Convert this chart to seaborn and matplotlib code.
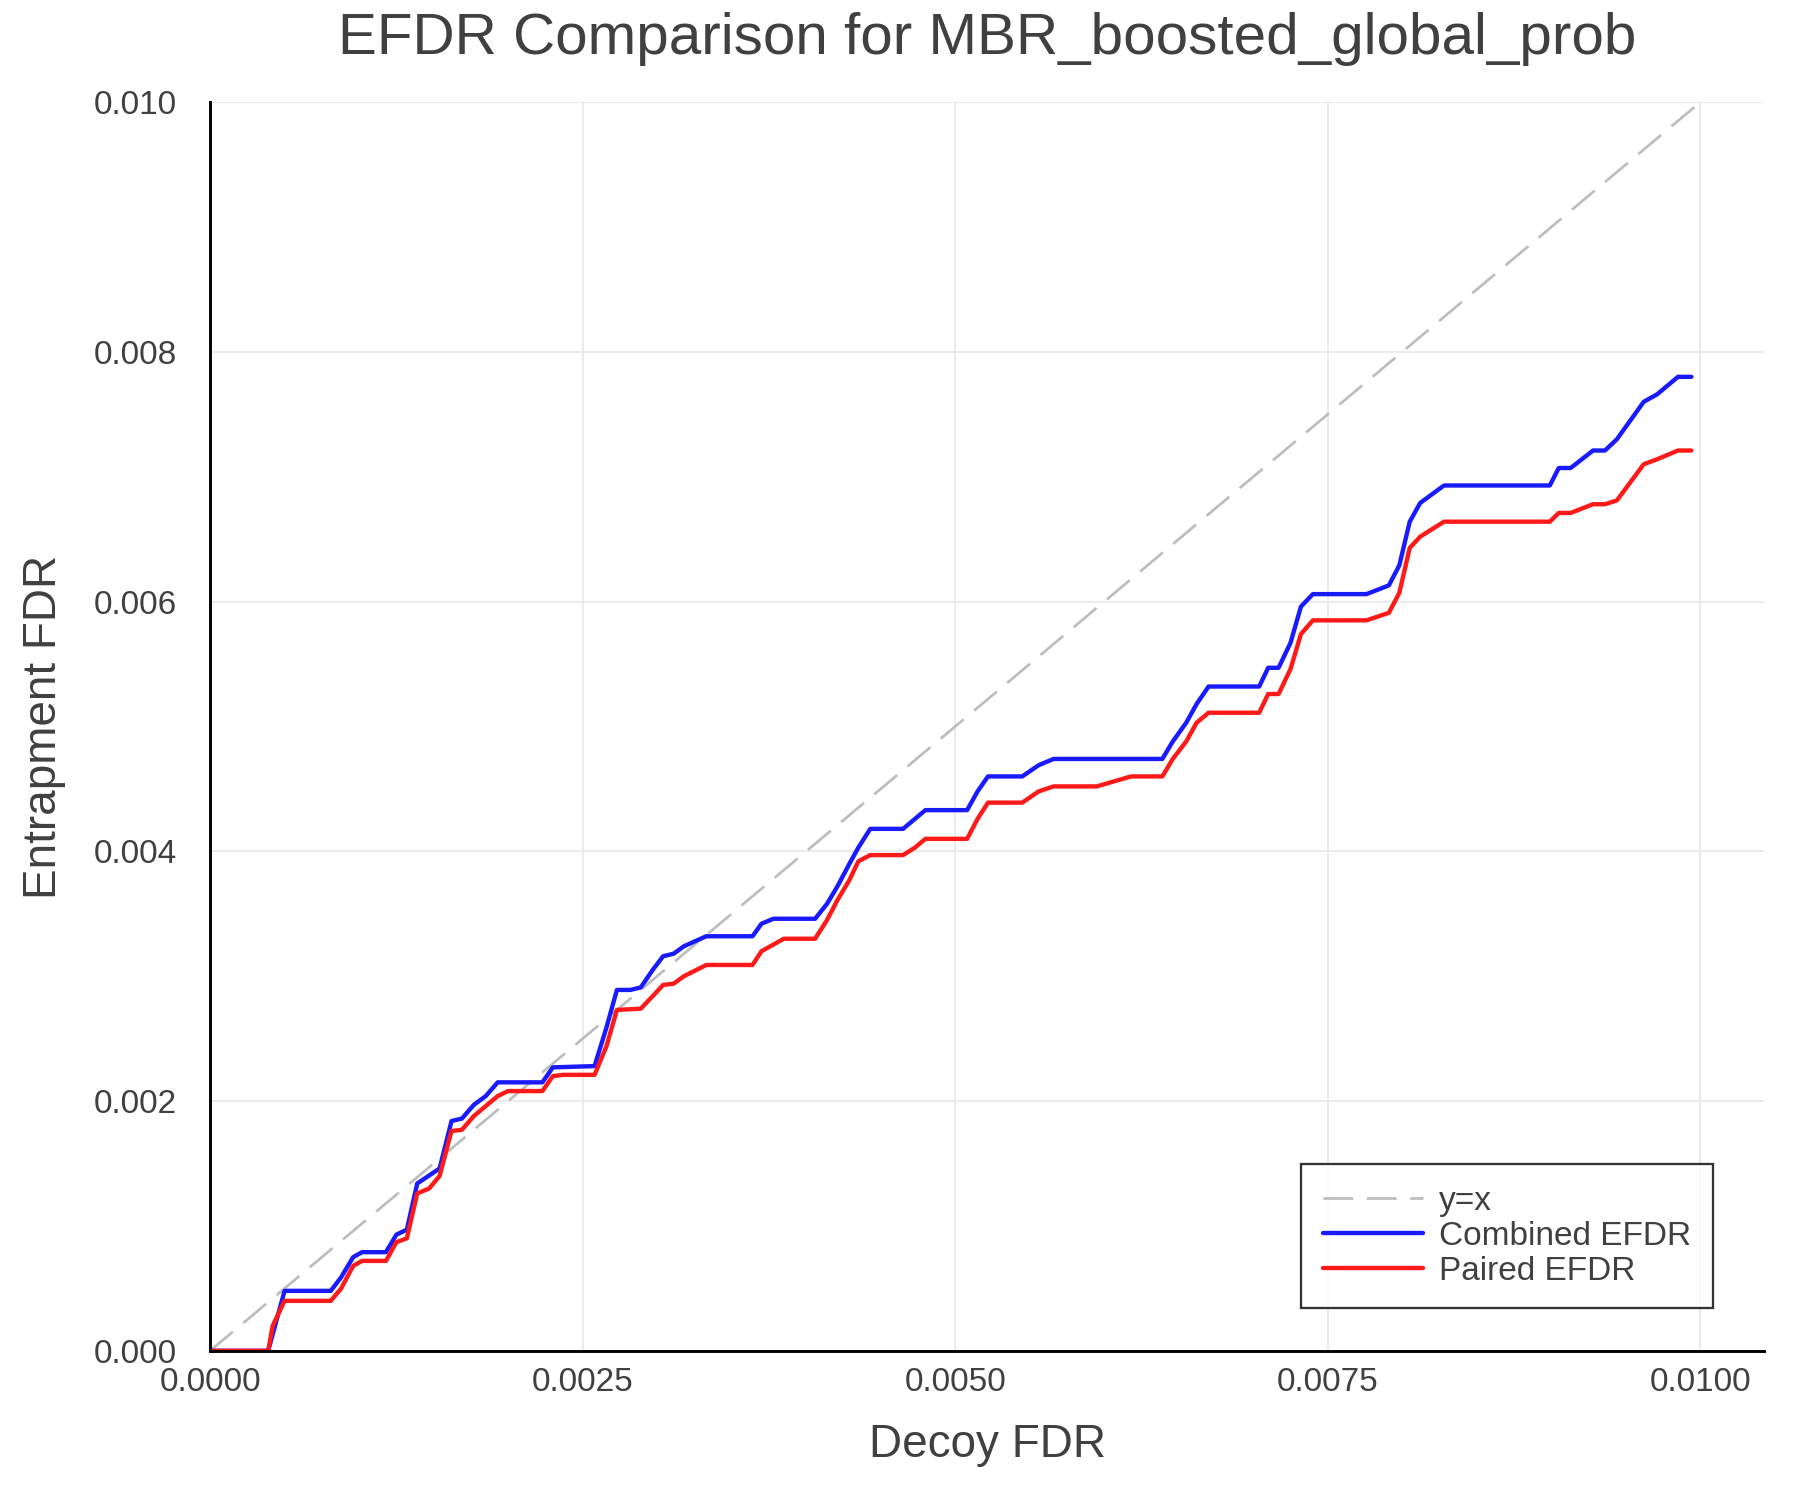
import matplotlib
matplotlib.use("Agg")
import matplotlib.pyplot as plt
import pandas as pd
import seaborn as sns

# diagonal reference
diag = [0.0, 0.010]

# Combined EFDR (blue)
comb_x = [0, 0.00039, 0.0005, 0.00081, 0.00088, 0.00096, 0.00102, 0.00118, 0.00125, 0.00132,
          0.00139, 0.00154, 0.00162, 0.00169, 0.00177, 0.00185, 0.00193, 0.00223, 0.0023, 0.00258,
          0.00266, 0.00273, 0.00282, 0.00289, 0.00297, 0.00304, 0.00311, 0.00318, 0.00333, 0.00364,
          0.0037, 0.00378, 0.00406, 0.00414, 0.00421, 0.00429, 0.00435, 0.00443, 0.00465, 0.00473,
          0.0048, 0.00508, 0.00515, 0.00522, 0.00545, 0.00556, 0.00566, 0.00639, 0.00646, 0.00655,
          0.00662, 0.0067, 0.00704, 0.0071, 0.00717, 0.00725, 0.00732, 0.0074, 0.00776, 0.00791,
          0.00798, 0.00805, 0.00812, 0.00828, 0.00899, 0.00905, 0.00913, 0.00928, 0.00936, 0.00944,
          0.00962, 0.00971, 0.00985, 0.00994]
comb_y = [0, 0, 0.00048, 0.00048, 0.00059, 0.00075, 0.00079, 0.00079, 0.00093, 0.00097,
          0.00134, 0.00146, 0.00184, 0.00186, 0.00197, 0.00204, 0.00215, 0.00215, 0.00227, 0.00228,
          0.00259, 0.00289, 0.00289, 0.00291, 0.00305, 0.00316, 0.00318, 0.00324, 0.00332, 0.00332,
          0.00342, 0.00346, 0.00346, 0.00358, 0.00372, 0.0039, 0.00403, 0.00418, 0.00418, 0.00426,
          0.00433, 0.00433, 0.00448, 0.0046, 0.0046, 0.00469, 0.00474, 0.00474, 0.00488, 0.00503,
          0.00518, 0.00532, 0.00532, 0.00547, 0.00547, 0.00567, 0.00596, 0.00606, 0.00606, 0.00613,
          0.00629, 0.00664, 0.00679, 0.00693, 0.00693, 0.00707, 0.00707, 0.00721, 0.00721, 0.0073,
          0.0076, 0.00766, 0.0078, 0.0078]

# Paired EFDR (red)
pair_x = [0, 0.00039, 0.00042, 0.0005, 0.00081, 0.00088, 0.00096, 0.00102, 0.00118, 0.00125,
          0.00132, 0.00139, 0.00147, 0.00154, 0.00162, 0.00169, 0.00177, 0.00185, 0.00193, 0.002,
          0.00223, 0.0023, 0.00237, 0.00258, 0.00266, 0.00273, 0.00289, 0.00297, 0.00304, 0.00311,
          0.00318, 0.00333, 0.00364, 0.0037, 0.00385, 0.00406, 0.00414, 0.00421, 0.00429, 0.00435,
          0.00443, 0.00465, 0.00473, 0.0048, 0.00508, 0.00515, 0.00522, 0.00545, 0.00556, 0.00566,
          0.00595, 0.00618, 0.00639, 0.00646, 0.00655, 0.00662, 0.0067, 0.00704, 0.0071, 0.00717,
          0.00725, 0.00732, 0.0074, 0.00776, 0.00791, 0.00798, 0.00805, 0.00812, 0.00828, 0.00899,
          0.00905, 0.00913, 0.00928, 0.00936, 0.00944, 0.00962, 0.00971, 0.00985, 0.00994]
pair_y = [0, 0, 0.0002, 0.0004, 0.0004, 0.0005, 0.00068, 0.00072, 0.00072, 0.00087,
          0.0009, 0.00126, 0.0013, 0.0014, 0.00176, 0.00177, 0.00188, 0.00196, 0.00204, 0.00208,
          0.00208, 0.0022, 0.00221, 0.00221, 0.00244, 0.00273, 0.00274, 0.00284, 0.00293, 0.00294,
          0.003, 0.00309, 0.00309, 0.0032, 0.0033, 0.0033, 0.00345, 0.00361, 0.00377, 0.00392,
          0.00397, 0.00397, 0.00403, 0.0041, 0.0041, 0.00426, 0.00439, 0.00439, 0.00448, 0.00452,
          0.00452, 0.0046, 0.0046, 0.00474, 0.00488, 0.00503, 0.00511, 0.00511, 0.00526, 0.00526,
          0.00546, 0.00574, 0.00585, 0.00585, 0.00591, 0.00607, 0.00643, 0.00652, 0.00664, 0.00664,
          0.00671, 0.00671, 0.00678, 0.00678, 0.00681, 0.0071, 0.00714, 0.00721, 0.00721]

xticks = [0.0, 0.0025, 0.005, 0.0075, 0.010]
yticks = [0.0, 0.002, 0.004, 0.006, 0.008, 0.010]

sns.set_style("white")
plt.rcParams['font.family'] = ['Liberation Sans', 'DejaVu Sans']
txt = '#404040'

fig = plt.figure(figsize=(12, 10), dpi=150)
ax = fig.add_axes([183 / 1568, 1 - 1177 / 1307, (1537 - 183) / 1568, (1177 - 89) / 1307])

sns.lineplot(x=diag, y=diag, ax=ax, color='#bdbdbd', linewidth=1.3,
             label='y=x').lines[-1].set_dashes([11, 5])
sns.lineplot(x=comb_x, y=comb_y, ax=ax, color='#1a1aff', linewidth=2.1,
             label='Combined EFDR', sort=False)
sns.lineplot(x=pair_x, y=pair_y, ax=ax, color='#ff1a1a', linewidth=2.1,
             label='Paired EFDR', sort=False)

ax.set_xlim(0, 0.01043)
ax.set_ylim(0, 0.010)
ax.set_xticks(xticks)
ax.set_xticklabels([f'{t:.4f}' for t in xticks])
ax.set_yticks(yticks)
ax.set_yticklabels([f'{t:.3f}' for t in yticks])
ax.grid(True, color='#e8e8e8', linewidth=0.8)
for s in ['top', 'right']:
    ax.spines[s].set_visible(False)
for s in ['left', 'bottom']:
    ax.spines[s].set_color('black')
    ax.spines[s].set_linewidth(1.4)
ax.tick_params(direction='in', length=7, width=1.4, color='black',
               labelsize=16, labelcolor=txt)
ax.tick_params(axis='x', pad=8)
ax.tick_params(axis='y', pad=16)

ax.set_xlabel('Decoy FDR', fontsize=22, color=txt, labelpad=12)
ax.set_ylabel('Entrapment FDR', fontsize=22, color=txt, labelpad=13)
ax.set_title('EFDR Comparison for MBR_boosted_global_prob', fontsize=28,
             color=txt, pad=23)

leg = ax.legend(loc='lower right', bbox_to_anchor=(0.967, 0.034), borderaxespad=0,
                fontsize=16, frameon=True, fancybox=False, handlelength=3.0,
                labelspacing=0.12, borderpad=0.65, handletextpad=0.5)
leg.get_frame().set_edgecolor('black')
leg.get_frame().set_linewidth(1.1)
for t in leg.get_texts():
    t.set_color(txt)

fig.savefig('out.png', dpi=150)
